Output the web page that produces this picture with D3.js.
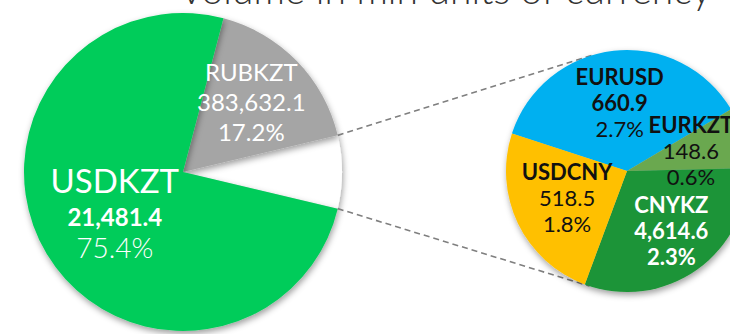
<!DOCTYPE html>
<html>
<head>
<meta charset="utf-8">
<script src="https://cdn.jsdelivr.net/npm/d3@7"></script>
<style>
  html, body { margin: 0; padding: 0; background: #ffffff; }
  svg { display: block; font-family: Lato, "Noto Sans", sans-serif; }
</style>
</head>
<body>
<svg id="chart" width="730" height="334"></svg>
<script>
// Currency pair turnover, mln units of currency
const titleText = "Volume in mln units of currency";

// Main pie: the two big pairs plus the bucket that is broken out on the right
const mainPairs   = ["RUBKZT", "Other", "USDKZT"];
const mainVolumes = ["383,632.1", "", "21,481.4"];
const mainShares  = [17.2, 7.4, 75.4];

// Breakdown of the "Other" bucket
const subPairs   = ["EURUSD", "EURKZT", "CNYKZ", "USDCNY"];
const subVolumes = ["660.9", "148.6", "4,614.6", "518.5"];
const subShares  = [2.7, 0.6, 2.3, 1.8];

const svg = d3.select("#chart");
const deg = Math.PI / 180;

const mainColor = d3.scaleOrdinal()
  .domain(mainPairs)
  .range(["#a5a5a5", "#ffffff", "#00cc5a"]);
const subColor = d3.scaleOrdinal()
  .domain(subPairs)
  .range(["#00b0f0", "#6aa84f", "#1e9437", "#ffc000"]);

// soft drop shadow under the slices
const defs = svg.append("defs");
const shadow = defs.append("filter").attr("id", "shadow")
  .attr("x", "-20%").attr("y", "-20%").attr("width", "140%").attr("height", "140%");
shadow.append("feDropShadow")
  .attr("dx", 1).attr("dy", 3).attr("stdDeviation", 3)
  .attr("flood-color", "#000").attr("flood-opacity", 0.38);

// title (runs off the top edge)
svg.append("text")
  .attr("x", 445).attr("y", 4)
  .attr("text-anchor", "middle")
  .attr("font-size", 39).attr("font-weight", 300)
  .attr("fill", "#333333")
  .text(titleText);

// ---------- main pie ----------
const mainCx = 183, mainCy = 172, mainR = 159;
const mainData = mainPairs.map((p, i) => ({ pair: p, volume: mainVolumes[i], share: mainShares[i] }));
const mainTotal = d3.sum(mainShares);
const otherIdx = mainPairs.indexOf("Other");
const before = d3.sum(mainShares.slice(0, otherIdx));
// rotate so the broken-out slice points straight at the secondary pie
const mainStart = Math.PI / 2 - (before + mainShares[otherIdx] / 2) / mainTotal * 2 * Math.PI;

const mainArcs = d3.pie().sort(null).value(d => d.share)
  .startAngle(mainStart).endAngle(mainStart + 2 * Math.PI)(mainData);
const mainArc = d3.arc().innerRadius(0).outerRadius(mainR);

const gMain = svg.append("g").attr("transform", `translate(${mainCx},${mainCy})`);
// draw the white bucket first so its neighbours can cast shadow over it
const drawOrder = [otherIdx].concat(d3.range(mainArcs.length).filter(i => i !== otherIdx));
gMain.selectAll("path.slice")
  .data(drawOrder.map(i => mainArcs[i]))
  .join("path")
  .attr("class", "slice")
  .attr("d", mainArc)
  .attr("fill", d => mainColor(d.data.pair))
  .attr("filter", "url(#shadow)");

// main labels
const mainLabelStyle = {
  RUBKZT: { k: 0.6, lines: [
    { key: "pair",   size: 24, weight: 400, dy: -24 },
    { key: "volume", size: 24, weight: 400, dy: 6 },
    { key: "pct",    size: 24, weight: 400, dy: 36 } ] },
  USDKZT: { k: 0.5, lines: [
    { key: "pair",   size: 33, weight: 400, dy: -20 },
    { key: "volume", size: 24, weight: 700, dy: 13 },
    { key: "pct",    size: 28, weight: 300, dy: 45 } ] }
};
const pctFmt = d => d3.format(".1f")(d) + "%";

mainArcs.forEach(a => {
  const st = mainLabelStyle[a.data.pair];
  if (!st) return;
  const mid = (a.startAngle + a.endAngle) / 2;
  const lx = Math.sin(mid) * mainR * st.k;
  const ly = -Math.cos(mid) * mainR * st.k;
  st.lines.forEach(l => {
    const txt = l.key === "pair" ? a.data.pair : l.key === "volume" ? a.data.volume : pctFmt(a.data.share);
    gMain.append("text")
      .attr("x", lx).attr("y", ly + l.dy)
      .attr("text-anchor", "middle")
      .attr("font-size", l.size).attr("font-weight", l.weight)
      .attr("fill", "#ffffff")
      .text(txt);
  });
});

// ---------- secondary pie ----------
const subCx = 627, subCy = 171, subR = 121;
const subData = subPairs.map((p, i) => ({ pair: p, volume: subVolumes[i], share: subShares[i] }));
const subStart = -72 * deg;
const subArcs = d3.pie().sort(null).value(d => d.share)
  .startAngle(subStart).endAngle(subStart + 2 * Math.PI)(subData);
const subArc = d3.arc().innerRadius(0).outerRadius(subR);

// connector lines from the bucket's edges to the secondary pie
const otherArc = mainArcs[otherIdx];
const pt = (cx, cy, r, a) => [cx + Math.sin(a) * r, cy - Math.cos(a) * r];
const connectors = [
  [pt(mainCx, mainCy, mainR, otherArc.startAngle), pt(subCx, subCy, subR, -16 * deg)],
  [pt(mainCx, mainCy, mainR, otherArc.endAngle),   pt(subCx, subCy, subR, 198 * deg)]
];
svg.selectAll("line.connector")
  .data(connectors)
  .join("line")
  .attr("class", "connector")
  .attr("x1", d => d[0][0]).attr("y1", d => d[0][1])
  .attr("x2", d => d[1][0]).attr("y2", d => d[1][1])
  .attr("stroke", "#7f7f7f").attr("stroke-width", 1.6)
  .attr("stroke-dasharray", "6,4");

const gSub = svg.append("g").attr("transform", `translate(${subCx},${subCy})`);
gSub.append("g").attr("filter", "url(#shadow)")
  .selectAll("path")
  .data(subArcs)
  .join("path")
  .attr("d", subArc)
  .attr("fill", d => subColor(d.data.pair));

// label colour, line weights and distance from the centre for each slice
const subLabelStyle = {
  EURUSD: { color: "#111111", w: [700, 700, 400], k: 0.55 },
  EURKZT: { color: "#111111", w: [700, 400, 400], k: 0.55 },
  CNYKZ:  { color: "#ffffff", w: [700, 700, 700], k: 0.63 },
  USDCNY: { color: "#111111", w: [700, 400, 400], k: 0.55 }
};
const subDy = [-20, 6, 32];
subArcs.forEach(a => {
  const st = subLabelStyle[a.data.pair];
  const mid = (a.startAngle + a.endAngle) / 2;
  const lx = Math.sin(mid) * subR * st.k;
  const ly = -Math.cos(mid) * subR * st.k;
  [a.data.pair, a.data.volume, pctFmt(a.data.share)].forEach((txt, j) => {
    gSub.append("text")
      .attr("x", lx).attr("y", ly + subDy[j])
      .attr("text-anchor", "middle")
      .attr("font-size", 22).attr("font-weight", st.w[j])
      .attr("fill", st.color)
      .text(txt);
  });
});
</script>
</body>
</html>
